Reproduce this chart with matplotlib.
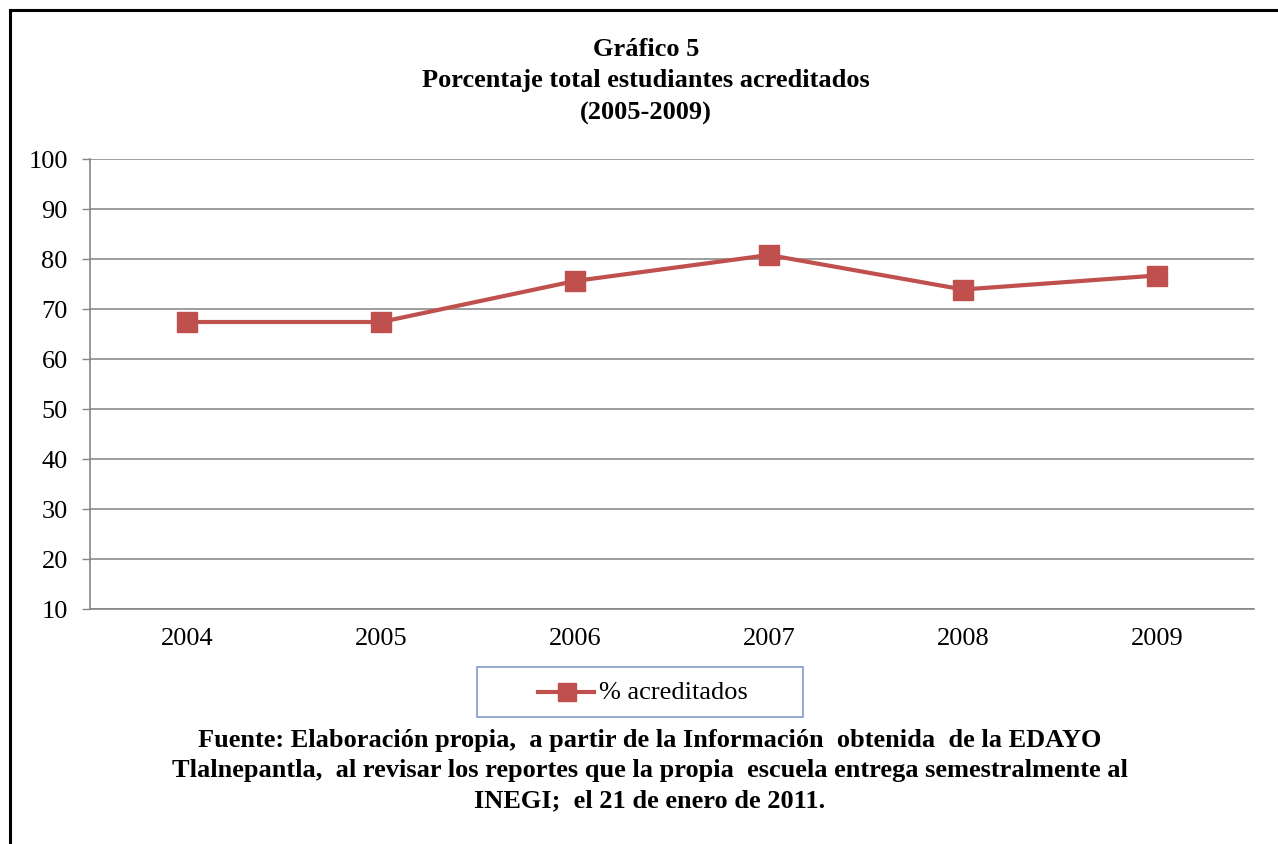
import matplotlib
matplotlib.use("Agg")
import matplotlib.pyplot as plt
from matplotlib.lines import Line2D
from matplotlib.patches import Rectangle

years = ["2004", "2005", "2006", "2007", "2008", "2009"]
acreditados = [67.4, 67.4, 75.6, 80.8, 73.9, 76.7]
series_label = "% acreditados"
yticks = [10, 20, 30, 40, 50, 60, 70, 80, 90, 100]
title_lines = ["Gráfico 5", "Porcentaje total estudiantes acreditados", "(2005-2009)"]
source_lines = [
    "Fuente: Elaboración propia,  a partir de la Información  obtenida  de la EDAYO",
    "Tlalnepantla,  al revisar los reportes que la propia  escuela entrega semestralmente al",
    "INEGI;  el 21 de enero de 2011.",
]

W, H = 1278, 844
plt.rcParams['font.family'] = ['Liberation Serif', 'DejaVu Serif']
fig = plt.figure(figsize=(W / 100, H / 100), dpi=100)
fig.patch.set_facecolor('white')

# outer frame (left and top borders)
fig.add_artist(Line2D([10 / W, 10 / W], [0, 1 - 10 / H], color='black', lw=2.2, transform=fig.transFigure))
fig.add_artist(Line2D([10 / W, 1], [1 - 10 / H, 1 - 10 / H], color='black', lw=2.2, transform=fig.transFigure))

ax = fig.add_axes([90 / W, 1 - 609 / H, (1254 - 90) / W, (609 - 159) / H])
x = list(range(len(years)))
ax.plot(x, acreditados, color='#C0504D', lw=3, marker='s', markersize=14.5,
        markerfacecolor='#C0504D', markeredgecolor='#C0504D', zorder=3)
ax.set_xlim(-0.5, len(years) - 0.5)
ax.set_ylim(10, 100)
ax.set_yticks(yticks)
ax.set_yticklabels([str(t) for t in yticks])
ax.set_xticks(x)
ax.set_xticklabels(years)
ax.tick_params(axis='x', length=0, labelsize=19, pad=14)
ax.tick_params(axis='y', length=6, width=1, color='#868686', labelsize=19, pad=10)
ax.grid(axis='y', color='#8C8C8C', lw=1.2)
ax.set_axisbelow(True)
for s in ['top', 'right']:
    ax.spines[s].set_visible(False)
for s in ['left', 'bottom']:
    ax.spines[s].set_color('#868686')
    ax.spines[s].set_linewidth(1.2)

# title
for t, yy in zip(title_lines, [49, 80, 113]):
    fig.text(646 / W, 1 - yy / H, t, ha='center', va='center', fontsize=19, fontweight='bold')

# legend box
fig.add_artist(Rectangle((477 / W, 1 - 717 / H), (803 - 477) / W, (717 - 667) / H,
                         transform=fig.transFigure, fill=False, edgecolor='#7F9CC8', lw=1.2))
fig.add_artist(Line2D([538 / W, 594 / W], [1 - 692 / H, 1 - 692 / H], color='#C0504D', lw=3,
                      transform=fig.transFigure))
fig.add_artist(Line2D([567 / W], [1 - 692 / H], color='#C0504D', marker='s', markersize=13,
                      linestyle='none', transform=fig.transFigure))
fig.text(599 / W, 1 - 693 / H, series_label, ha='left', va='center', fontsize=19)

# source
for t, yy in zip(source_lines, [740, 771, 801]):
    fig.text(650 / W, 1 - yy / H, t, ha='center', va='center', fontsize=19, fontweight='bold')

fig.savefig('out.png', dpi=100, facecolor='white')
